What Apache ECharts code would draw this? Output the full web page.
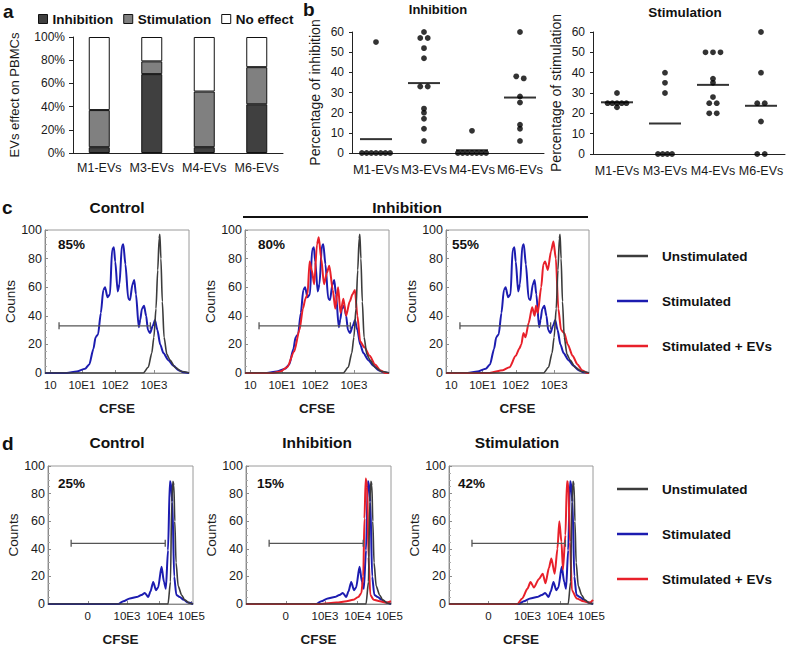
<!DOCTYPE html>
<html><head><meta charset="utf-8">
<script src="https://cdn.jsdelivr.net/npm/echarts@6/dist/echarts.min.js"></script>
<style>html,body{margin:0;padding:0;background:#fff}#chart{width:787px;height:647px}</style>
</head><body><div id="chart"></div>
<script>
const FONT = '"Liberation Sans", Arial, Helvetica, sans-serif';

// ---------- Panel a: stacked percentages ----------
const aCategories = ['M1-EVs', 'M3-EVs', 'M4-EVs', 'M6-EVs'];
const aInhibition = [5, 68, 5, 42];
const aStimulation = [32, 11, 48, 32];
const aNoEffect = [63, 21, 47, 26];

// ---------- Panel b: individual values ----------
const bCategories = ['M1-EVs', 'M3-EVs', 'M4-EVs', 'M6-EVs'];
const bInhibition = [
  [55, 0, 0, 0, 0, 0, 0, 0],
  [60, 57, 57, 52, 47, 33, 33, 22, 20, 17, 12, 6],
  [11, 0, 0, 0, 0, 0, 0, 0],
  [60, 38, 37, 28, 25, 14, 12, 6]
];
const bStimulation = [
  [30, 25, 25, 25, 25, 25, 23],
  [40, 35, 30, 0, 0, 0, 0],
  [50, 50, 50, 37, 35, 28, 25, 25, 20, 20],
  [60, 40, 25, 25, 16, 0, 0]
];

// ---------- Panel c: CFSE histograms (x in decades) ----------
const cTickValues = [0.15, 1.05, 2.0, 3.1];
const cTickLabels = ['10', '10E1', '10E2', '10E3'];
const cUnstimulated = [[0,0],[2.8,0],[2.94,4],[3.04,14],[3.1,25],[3.16,45],[3.21,72],[3.25,94],[3.27,97],[3.3,80],[3.34,50],[3.39,25],[3.47,13],[3.56,9],[3.7,4],[3.89,1],[4.1,0]];
const cStimulated = [[0,0],[0.62,0],[0.9,1],[1.14,3],[1.26,6],[1.38,17],[1.44,25],[1.51,27],[1.59,42],[1.66,58],[1.71,60],[1.78,53],[1.85,55],[1.91,86],[1.96,88],[2.0,78],[2.07,57],[2.12,62],[2.19,89],[2.23,90],[2.29,76],[2.37,52],[2.42,51],[2.49,62],[2.54,65],[2.59,55],[2.67,32],[2.71,37],[2.76,45],[2.82,47],[2.88,40],[2.93,30],[2.99,28],[3.07,33],[3.13,37],[3.2,30],[3.28,20],[3.37,14],[3.51,9],[3.66,5],[3.8,2],[3.94,0.5],[4.1,0]];
const cStimEVs80 = [[0,0],[0.8,0],[1.0,1],[1.2,4],[1.4,15],[1.55,30],[1.65,45],[1.72,52],[1.78,55],[1.84,78],[1.9,72],[1.97,62],[2.05,90],[2.1,95],[2.17,80],[2.25,62],[2.33,70],[2.4,75],[2.5,58],[2.57,45],[2.65,60],[2.72,42],[2.8,52],[2.88,40],[2.98,50],[3.06,55],[3.13,58],[3.2,40],[3.28,22],[3.4,18],[3.55,12],[3.7,6],[3.85,2],[4.0,0],[4.1,0]];
const cStimEVs55 = [[0,0],[1.25,0],[1.63,2],[1.82,4],[2.0,12],[2.1,17],[2.16,20],[2.22,28],[2.28,25],[2.37,35],[2.47,46],[2.54,40],[2.58,47],[2.63,42],[2.73,60],[2.79,76],[2.84,78],[2.92,72],[3.01,85],[3.08,92],[3.15,80],[3.22,45],[3.3,30],[3.39,28],[3.49,20],[3.63,12],[3.77,6],[3.9,2],[4.05,0],[4.1,0]];
const cGate = [0.4, 3.0, 33];
const cPercents = ['85%', '80%', '55%'];

// ---------- Panel d ----------
const dTickValues = [1.29, 2.56, 3.62, 4.65];
const dTickLabels = ['0', '10E3', '10E4', '10E5'];
const dUnstimulated = [[0,0],[3.89,0],[3.97,16],[4.01,74],[4.05,89],[4.08,86],[4.11,60],[4.15,30],[4.22,13],[4.33,6.5],[4.43,3],[4.6,0.5],[4.7,0]];
const dStimulated = [[0,0],[2.28,0],[2.44,2],[2.65,4],[2.87,5],[3.03,6.5],[3.14,8],[3.25,5],[3.32,9],[3.41,16],[3.5,10],[3.57,12],[3.68,27],[3.76,16],[3.82,11],[3.89,39],[3.95,89],[3.98,88],[4.03,74],[4.09,20],[4.16,6.5],[4.27,5],[4.4,3],[4.54,1],[4.7,0]];
const dStimEVs15 = [[0,0],[2.4,0],[2.93,1],[3.26,2],[3.47,3],[3.64,5],[3.74,8],[3.8,20],[3.84,62],[3.88,91],[3.93,85],[3.97,34],[4.03,6.5],[4.14,3],[4.34,2],[4.55,1],[4.7,2]];
const dStimEVs42 = [[0,0],[2.23,0],[2.39,4],[2.56,11],[2.66,16],[2.77,12],[2.93,18],[3.06,22],[3.15,15],[3.26,26],[3.34,33],[3.45,22],[3.54,40],[3.6,60],[3.67,45],[3.72,25],[3.8,50],[3.85,89],[3.89,88],[3.95,45],[4.01,10],[4.17,4],[4.39,2],[4.6,1],[4.7,3]];
const dGate = [0.75, 3.8, 44];
const dPercents = ['25%', '15%', '42%'];

const legendNames = ['Unstimulated', 'Stimulated', 'Stimulated + EVs'];
const COL = { unstim: '#3c3c3c', stim: '#1c1cb0', ev: '#e8202a' };

// ---------- helpers ----------
function swarm(groups) {
  const out = [];
  groups.forEach((vals, ci) => {
    const s = [...vals].sort((a, b) => b - a);
    let i = 0;
    while (i < s.length) {
      let j = i;
      while (j + 1 < s.length && s[i] - s[j + 1] < 1.5) j++;
      const n = j - i + 1, step = n >= 4 ? 4.7 : 7.5;
      for (let k = 0; k < n; k++) out.push({ value: [ci, s[i + k]], symbolOffset: [(k - (n - 1) / 2) * step, 0] });
      i = j + 1;
    }
  });
  return out;
}
const means = groups => groups.map((v, i) => [i, v.reduce((a, b) => a + b, 0) / v.length]);

const grids = [
  { left: 73, top: 37, width: 210, height: 116 },
  { left: 352, top: 32, width: 192, height: 121 },
  { left: 593, top: 32, width: 192, height: 122 },
  { left: 45, top: 230, width: 144, height: 143 },
  { left: 245, top: 230, width: 144, height: 143 },
  { left: 446, top: 230, width: 143, height: 143 },
  { left: 48, top: 466, width: 145, height: 143 },
  { left: 246, top: 466, width: 145, height: 143 },
  { left: 449, top: 466, width: 144, height: 143 }
].map((g, i) => Object.assign(g, i >= 3 ? { show: true, borderColor: '#9a9a9a', borderWidth: 1, backgroundColor: 'transparent' } : {}));

const txt = { color: '#1a1a1a', fontFamily: FONT };
const xAxes = [], yAxes = [];

// a axes
xAxes.push({ gridIndex: 0, type: 'category', data: aCategories,
  axisLine: { lineStyle: { color: '#222' } }, axisTick: { length: 4, lineStyle: { color: '#222' } },
  axisLabel: Object.assign({ fontSize: 12.5, margin: 8, interval: 0 }, txt) });
yAxes.push({ gridIndex: 0, type: 'value', min: 0, max: 100, interval: 20,
  axisLine: { show: true, lineStyle: { color: '#222' } }, axisTick: { show: true, length: 4, lineStyle: { color: '#222' } },
  splitLine: { show: false }, axisLabel: Object.assign({ fontSize: 12, margin: 8, formatter: '{value}%' }, txt),
  name: 'EVs effect on PBMCs', nameLocation: 'middle', nameGap: 52, nameTextStyle: Object.assign({ fontSize: 13 }, txt) });
// b axes
[['Percentage of inhibition', 13], ['Percentage of stimulation', 12.5]].forEach(([nm, fs], k) => {
  xAxes.push({ gridIndex: 1 + k, type: 'category', data: bCategories,
    axisLine: { lineStyle: { color: '#222' } }, axisTick: { length: 3, lineStyle: { color: '#222' } },
    axisLabel: Object.assign({ fontSize: fs, margin: 10, interval: 0 }, txt) });
  yAxes.push({ gridIndex: 1 + k, type: 'value', min: 0, max: 60, interval: 10,
    axisLine: { show: true, lineStyle: { color: '#222' } }, axisTick: { show: true, length: 3, lineStyle: { color: '#222' } },
    splitLine: { show: false }, axisLabel: Object.assign({ fontSize: 12, margin: 8 }, txt),
    name: nm, nameLocation: 'middle', nameGap: 30, nameTextStyle: Object.assign({ fontSize: 14 }, txt) });
});
// c & d axes
function flowAxes(gi, max, tv, tl) {
  xAxes.push({ gridIndex: gi, type: 'value', min: 0, max: max,
    axisLine: { lineStyle: { color: '#8a8a8a' } },
    axisTick: { customValues: tv, inside: true, length: 3, lineStyle: { color: '#8a8a8a' } },
    axisLabel: Object.assign({ customValues: tv, fontSize: 11.5, margin: 6,
      formatter: v => { let b = 0; tv.forEach((t, i) => { if (Math.abs(t - v) < Math.abs(tv[b] - v)) b = i; }); return tl[b]; } }, txt),
    splitLine: { show: false },
    name: 'CFSE', nameLocation: 'middle', nameGap: 28, nameTextStyle: Object.assign({ fontSize: 13.5, fontWeight: 'bold' }, txt) });
  yAxes.push({ gridIndex: gi, type: 'value', min: 0, max: 100, interval: 20,
    axisLine: { show: true, lineStyle: { color: '#8a8a8a' } },
    axisTick: { show: true, inside: true, length: 3, lineStyle: { color: '#8a8a8a' } },
    minorTick: { show: true, splitNumber: 4, length: 2, lineStyle: { color: '#aaa' } },
    splitLine: { show: false }, axisLabel: Object.assign({ fontSize: 12.5, margin: 3 }, txt),
    name: 'Counts', nameLocation: 'middle', nameGap: 25, nameTextStyle: Object.assign({ fontSize: 13.5 }, txt) });
}
[3, 4, 5].forEach(g => flowAxes(g, 4.1, cTickValues, cTickLabels));
[6, 7, 8].forEach(g => flowAxes(g, 4.7, dTickValues, dTickLabels));

// ---------- series ----------
const series = [];
const barStyle = c => ({ color: c, borderColor: '#111', borderWidth: 1 });
series.push({ type: 'bar', name: 'Inhibition', stack: 'a', data: aInhibition, barWidth: 21, xAxisIndex: 0, yAxisIndex: 0, itemStyle: barStyle('#404040') });
series.push({ type: 'bar', name: 'Stimulation', stack: 'a', data: aStimulation, barWidth: 21, xAxisIndex: 0, yAxisIndex: 0, itemStyle: barStyle('#808080') });
series.push({ type: 'bar', name: 'No effect', stack: 'a', data: aNoEffect, barWidth: 21, xAxisIndex: 0, yAxisIndex: 0, itemStyle: barStyle('#ffffff') });

[bInhibition, bStimulation].forEach((g, k) => {
  series.push({ type: 'scatter', name: 'b-dots-' + k, xAxisIndex: 1 + k, yAxisIndex: 1 + k, data: swarm(g), symbolSize: 5.8, itemStyle: { color: '#000' } });
  series.push({ type: 'scatter', name: 'b-mean-' + k, xAxisIndex: 1 + k, yAxisIndex: 1 + k, data: means(g), symbol: 'rect', symbolSize: [32, 2], itemStyle: { color: '#000' } });
});

function hist(name, data, color, idx, w) {
  return { type: 'line', name, data, xAxisIndex: idx, yAxisIndex: idx, symbol: 'none', smooth: 0.25, smoothMonotone: 'x',
    lineStyle: { color, width: w }, itemStyle: { color } };
}
function gate(g, idx) {
  return { type: 'line', name: 'gate', data: [[g[0], g[2]], [g[1], g[2]]], xAxisIndex: idx, yAxisIndex: idx,
    symbol: 'rect', symbolSize: [1.3, 7], showSymbol: true, lineStyle: { color: '#555', width: 1.3 }, itemStyle: { color: '#555' } };
}
const cEVs = [null, cStimEVs80, cStimEVs55];
[3, 4, 5].forEach((idx, k) => {
  series.push(hist('Stimulated', cStimulated, COL.stim, idx, 2));
  if (cEVs[k]) series.push(hist('Stimulated + EVs', cEVs[k], COL.ev, idx, 2));
  series.push(hist('Unstimulated', cUnstimulated, COL.unstim, idx, 1.6));
  series.push(gate(cGate, idx));
});
const dEVs = [null, dStimEVs15, dStimEVs42];
[6, 7, 8].forEach((idx, k) => {
  series.push(hist('Stimulated', dStimulated, COL.stim, idx, 2));
  if (dEVs[k]) series.push(hist('Stimulated + EVs', dEVs[k], COL.ev, idx, 2));
  series.push(hist('Unstimulated', dUnstimulated, COL.unstim, idx, 1.6));
  series.push(gate(dGate, idx));
});

// ---------- text ----------
function T(text, x, y, size, align, weight) {
  return { type: 'text', x, y, silent: true, style: { text, fill: '#111', fontSize: size, fontWeight: weight || 'bold', fontFamily: FONT, align: align || 'center', verticalAlign: 'middle' } };
}
const graphic = [
  T('a', 3, 11, 19, 'left'), T('b', 303, 9, 19, 'left'), T('c', 2, 207, 19, 'left'), T('d', 2, 443, 19, 'left'),
  T('Inhibition', 438, 9, 13), T('Stimulation', 685, 12.5, 13.5),
  T('Control', 117, 207, 15.5), T('Inhibition', 407, 207, 15.5),
  { type: 'line', silent: true, shape: { x1: 243, y1: 217, x2: 588, y2: 217 }, style: { stroke: '#111', lineWidth: 2 } },
  T('Control', 117, 442, 15.5), T('Inhibition', 317, 442, 15.5), T('Stimulation', 517, 442, 15.5),
  T(cPercents[0], 58, 244, 13.5, 'left'), T(cPercents[1], 258, 244, 13.5, 'left'), T(cPercents[2], 452, 244, 13.5, 'left'),
  T(dPercents[0], 58, 483, 13.5, 'left'), T(dPercents[1], 257, 483, 13.5, 'left'), T(dPercents[2], 458, 483, 13.5, 'left')
];

const legTxt = { fontSize: 13.5, fontWeight: 'bold', color: '#111', fontFamily: FONT };
const lineLegend = top => ({ data: legendNames, orient: 'vertical', left: 612, top: top, icon: 'rect', itemWidth: 31, itemHeight: 2.5, itemGap: 31,
  textStyle: Object.assign({ padding: [0, 0, 0, 9] }, legTxt), selectedMode: false });
const option = {
  animation: false,
  backgroundColor: '#fff',
  grid: grids, xAxis: xAxes, yAxis: yAxes, series, graphic,
  legend: [
    { data: ['Inhibition', 'Stimulation', 'No effect'], left: 33, top: 7, icon: 'rect', itemWidth: 9, itemHeight: 9, itemGap: 10,
      itemStyle: { borderColor: '#111', borderWidth: 1 }, textStyle: Object.assign({}, legTxt), selectedMode: false },
    lineLegend(244), lineLegend(477)
  ]
};
const chart = echarts.init(document.getElementById('chart'), null, { renderer: 'svg' });
chart.setOption(option);
</script>
</body></html>
